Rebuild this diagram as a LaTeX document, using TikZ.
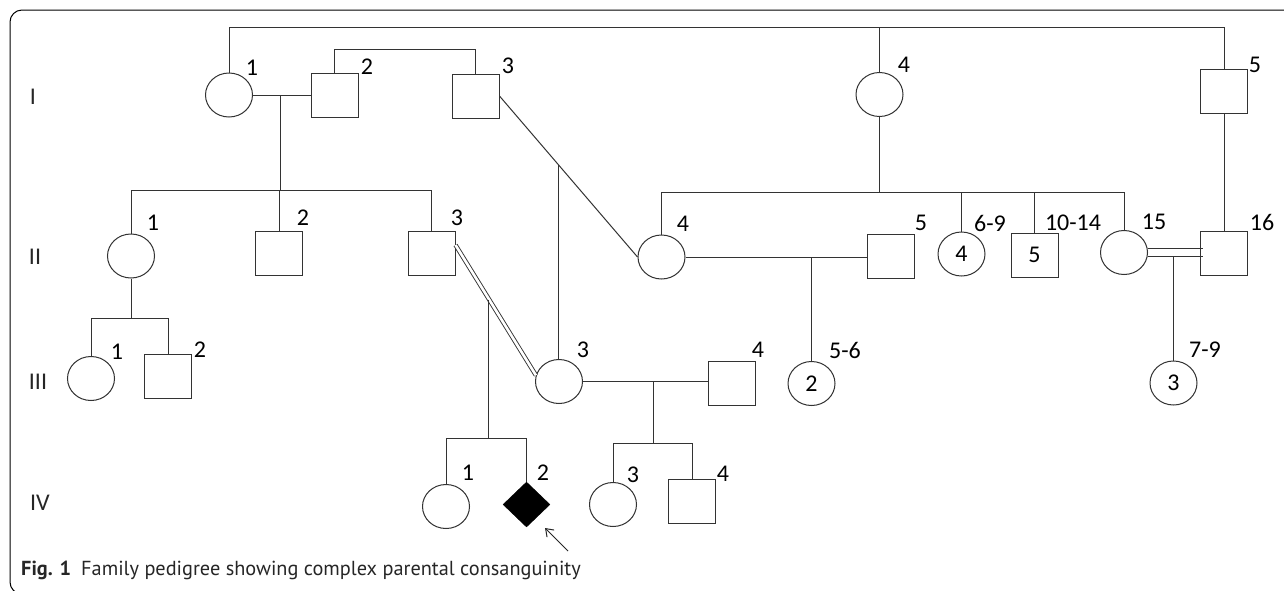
\documentclass[tikz,border=0pt]{standalone}
\usepackage{fontspec}
\setmainfont{Carlito}
\newfontfamily\capfont{PT Sans}
\usetikzlibrary{shapes.geometric,arrows.meta,calc}
\tikzset{
  ln/.style={line width=1pt, draw=black!80},
  fem/.style={ellipse, ln, minimum width=47pt, minimum height=44pt, inner sep=0pt, font=\fontsize{24}{28}\selectfont},
  mal/.style={rectangle, ln, minimum width=47pt, minimum height=44pt, inner sep=0pt, font=\fontsize{24}{28}\selectfont},
  unk/.style={diamond, fill=black, draw=black, minimum width=47pt, minimum height=45pt, inner sep=0pt},
  lab/.style={inner sep=0pt, font=\fontsize{24}{28}\selectfont, text=black},
  gen/.style={inner sep=0pt, font=\fontsize{24}{28}\selectfont, text=black!85},
  dbl/.style={line width=0.9pt, draw=black!80, double=white, double distance=2.6pt},
}
\begin{document}
\begin{tikzpicture}[x=1pt,y=-1pt]
\useasboundingbox (0,0) rectangle (1284,590);
\clip (0,0) rectangle (1284,590);
\fill[white] (0,0) rectangle (1284,590);
% frame
\draw[line width=1pt, rounded corners=12pt] (1300,10) -- (10,10) -- (10,594) -- (1300,594);

% generation labels
\node[gen] (gI) at (33,97) {I};
\node[gen] (gII) at (35,257) {II};
\node[gen] (gIII) at (38,382) {III};
\node[gen] (gIV) at (40,503) {IV};

% generation I
\node[fem] (i1) at (229,95) {};
\node[mal] (i2) at (334.5,95) {};
\node[mal] (i3) at (475.5,96) {};
\node[fem] (i4) at (879.5,94.5) {};
\node[mal] (i5) at (1224,91) {};
% generation II
\node[fem] (ii1) at (131,256) {};
\node[mal] (ii2) at (279,253.5) {};
\node[mal] (ii3) at (431.5,253.5) {};
\node[fem] (ii4) at (661.5,257) {};
\node[mal] (ii5) at (890.5,256) {};
\node[fem] (ii69) at (961.5,254) {4};
\node[mal] (ii1014) at (1034.5,255) {5};
\node[fem] (ii15) at (1124,252.5) {};
\node[mal] (ii16) at (1224,253.5) {};
% generation III
\node[fem] (iii1) at (91,378.5) {};
\node[mal] (iii2) at (168,376.5) {};
\node[fem] (iii3) at (559,381.5) {};
\node[mal] (iii4) at (731.5,383) {};
\node[fem] (iii56) at (811.5,383.5) {2};
\node[fem] (iii79) at (1173.5,383) {3};
% generation IV
\node[fem] (iv1) at (446,506.5) {};
\node[unk] (iv2) at (526.5,504.5) {};
\node[fem] (iv3) at (613,504.5) {};
\node[mal] (iv4) at (692,501.5) {};

% number labels
\node[lab] (li1) at (252,68) {1};
\node[lab] (li2) at (367,67) {2};
\node[lab] (li3) at (508,66) {3};
\node[lab] (li4) at (904,65) {4};
\node[lab] (li5) at (1255,65) {5};
\node[lab] (lii1) at (153,223) {1};
\node[lab] (lii2) at (303,218) {2};
\node[lab] (lii3) at (457,218) {3};
\node[lab] (lii4) at (683,224) {4};
\node[lab] (lii5) at (921,223) {5};
\node[lab] (lii69) at (990,223) {6-9};
\node[lab] (lii1014) at (1073,223) {10-14};
\node[lab] (lii15) at (1154,222) {15};
\node[lab] (lii16) at (1262,222) {16};
\node[lab] (liii1) at (117,352) {1};
\node[lab] (liii2) at (200,350) {2};
\node[lab] (liii3) at (583,350) {3};
\node[lab] (liii4) at (758,350) {4};
\node[lab] (liii56) at (845,350) {5-6};
\node[lab] (liii79) at (1205,350) {7-9};
\node[lab] (liv1) at (468,473) {1};
\node[lab] (liv2) at (543,473) {2};
\node[lab] (liv3) at (633,475) {3};
\node[lab] (liv4) at (723,474) {4};

% helper heights
\coordinate (y27) at (0,27);
\coordinate (y49) at (0,49);
\coordinate (y190) at (0,190);
\coordinate (y192) at (0,192);
\coordinate (y318) at (0,318);
\coordinate (y438) at (0,438);
\coordinate (y443) at (0,443);

% generation I connections
\draw[ln] (i1.north) -- (i1.north |- y27) -| (i5.north);
\draw[ln] (i4.north) -- (i4.north |- y27);
\draw[ln] (i2.north) -- (i2.north |- y49) -| (i3.north);
\draw[ln] (i1.east) -- (i2.west);
\coordinate (m12) at ($(i1.east)!0.47!(i2.west)$);
\draw[ln] (m12) -- (m12 |- y190);
\draw[ln] (ii1.north) -- (ii1.north |- y190) -| (ii3.north);
\draw[ln] (ii2.north) -- (ii2.north |- y190);
% I-3 diagonal
\draw[ln] (i3.east) -- (ii4.west);
\coordinate (dj) at ($(i3.east)!0.43!(ii4.west)$);
\draw[ln] (dj) -- (dj |- iii3.north);
% I-4 children
\draw[ln] (i4.south) -- (i4.south |- y192);
\draw[ln] (ii4.north) -- (ii4.north |- y192) -| (ii15.north);
\draw[ln] (ii69.north) -- (ii69.north |- y192);
\draw[ln] (ii1014.north) -- (ii1014.north |- y192);
\draw[ln] (i5.south) -- (ii16.north);
% II-4 x II-5
\draw[ln] (ii4.east) -- (ii4.east -| ii5.west);
\draw[ln] (iii56.north) -- (iii56.north |- ii4.east);
% II-1 children
\draw[ln] (ii1.south) -- (ii1.south |- y318);
\draw[ln] (iii1.north) -- (iii1.north |- y318) -| (iii2.north);
% II-3 = III-3 consanguineous
\coordinate (c3a) at ($(ii3.east)+(0,-8.5)$);
\coordinate (c3b) at (iii3.165);
\draw[dbl] (c3a) -- (c3b);
\coordinate (dj2) at ($(c3a)!0.41!(c3b)+(0,2)$);
\draw[ln] (dj2) -- (dj2 |- y438);
\draw[ln] (iv1.north) -- (iv1.north |- y438) -| (iv2.north);
% III-3 x III-4
\draw[ln] (iii3.east) -- (iii3.east -| iii4.west);
\coordinate (m34) at (653,381.5);
\draw[ln] (m34) -- (m34 |- y443);
\draw[ln] (iv3.north) -- (iv3.north |- y443) -| (iv4.north);
% II-15 = II-16 (double line)
\coordinate (h1a) at ($(ii15.east)+(-0.5,-3.8)$);
\coordinate (h2a) at ($(ii15.east)+(-0.5,3.8)$);
\draw[ln] (h1a) -- ($(h1a -| ii16.west)+(2.5,0)$);
\draw[ln] (h2a) -- ($(h2a -| ii16.west)+(2.5,0)$);
\coordinate (m1516) at (iii79.north |- h2a);
\draw[ln] (m1516) -- (iii79.north);

% proband arrow
\coordinate (arS) at (568,551);
\coordinate (arE) at (545,528);
\draw[line width=1pt, draw=black!85, -{Straight Barb[length=7pt,width=10pt]}] (arS) -- (arE);

% caption
\node[anchor=west, inner sep=0pt, font=\capfont\fontsize{20.3}{24}\selectfont, text=black!85] (cap) at (21,570)
  {\textbf{Fig. 1}\hspace{10pt}Family pedigree showing complex parental consanguinity};
\end{tikzpicture}
\end{document}
